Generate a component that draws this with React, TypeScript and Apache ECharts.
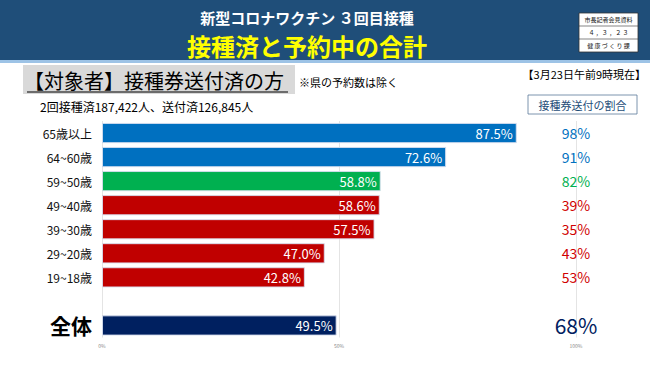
import React, { useEffect, useRef } from "react";
import * as echarts from "echarts";

const categories = ["65歳以上", "64~60歳", "59~50歳", "49~40歳", "39~30歳", "29~20歳", "19~18歳", "", "全体"];
const reservedRate = [87.5, 72.6, 58.8, 58.6, 57.5, 47.0, 42.8, null, 49.5];
const sentRatio = [98, 91, 82, 39, 35, 43, 53, null, 68];
const barColors = ["#0070C0", "#0070C0", "#00B050", "#C00000", "#C00000", "#C00000", "#C00000", "#C00000", "#002060"];
const ratioColors = ["#0070C0", "#0070C0", "#00B050", "#D00000", "#D00000", "#D00000", "#D00000", "#D00000", "#002060"];
const xTicks = [0, 50, 100];

const FONT = "'Noto Sans CJK JP', 'Noto Sans', sans-serif";

export default function App() {
  const ref = useRef<HTMLDivElement>(null);
  useEffect(() => {
    document.body.style.margin = "0";
    if (!ref.current) return;
    const chart = echarts.init(ref.current, null, { renderer: "svg" });
    const option: any = {
      animation: false,
      backgroundColor: "#ffffff",
      textStyle: { fontFamily: FONT },
      grid: { left: 102, right: 74, top: 121, bottom: 27.5, containLabel: false },
      xAxis: {
        type: "value",
        min: 0,
        max: 100,
        interval: 50,
        axisLine: { show: false },
        axisTick: { show: false },
        splitLine: { show: true, lineStyle: { color: "#e4e4e4", width: 1 } },
        axisLabel: {
          fontSize: 5,
          color: "#888",
          margin: 5,
          formatter: (v: number) => (xTicks.includes(v) ? v + "%" : ""),
        },
      },
      yAxis: {
        type: "category",
        data: categories,
        inverse: true,
        axisLine: { show: false },
        axisTick: { show: false },
        axisLabel: {
          margin: 10,
          fontSize: 12,
          color: "#111",
          fontFamily: FONT,
          formatter: (v: string) => (v === "全体" ? "{big|全体}" : v),
          rich: { big: { fontSize: 21, color: "#000", fontWeight: "bold", fontFamily: FONT } },
        },
      },
      series: [
        {
          type: "bar",
          barCategoryGap: "16%",
          data: reservedRate.map((v, i) =>
            v == null
              ? null
              : { value: v, itemStyle: { color: barColors[i], borderColor: "rgba(215,222,238,0.9)", borderWidth: 1 } }
          ),
          label: {
            show: true,
            position: "insideRight",
            distance: 4,
            color: "#ffffff",
            fontSize: 13,
            fontFamily: FONT,
            formatter: (p: any) => p.value.toFixed(1) + "%",
          },
        },
        {
          type: "scatter",
          symbolSize: 0,
          itemStyle: { opacity: 1 },
          data: sentRatio.map((v, i) =>
            v == null
              ? null
              : {
                  value: [100, i],
                  itemStyle: { opacity: 1 },
                  label: {
                    show: true,
                    position: "inside",
                    formatter: v + "%",
                    color: ratioColors[i],
                    opacity: 1,
                    fontSize: i === 8 ? 21 : 14,
                    fontFamily: FONT,
                  },
                }
          ),
        },
      ],
      graphic: [
        { type: "rect", shape: { x: 0, y: 0, width: 650, height: 60 }, style: { fill: "#1F4E79" } },
        { type: "rect", shape: { x: 0, y: 60, width: 650, height: 3 }, style: { fill: "#9DC3E6" } },
        {
          type: "text",
          x: 307,
          y: 17,
          style: {
            text: "新型コロナワクチン ３回目接種",
            fill: "#ffffff",
            font: "bold 15px " + FONT,
            textAlign: "center",
            textVerticalAlign: "middle",
          },
        },
        {
          type: "text",
          x: 307,
          y: 45,
          style: {
            text: "接種済と予約中の合計",
            fill: "#FFFF00",
            font: "bold 24px " + FONT,
            textAlign: "center",
            textVerticalAlign: "middle",
          },
        },
        { type: "rect", shape: { x: 579, y: 13, width: 59, height: 39 }, style: { fill: "#ffffff", stroke: "#333", lineWidth: 0.8 } },
        { type: "line", shape: { x1: 579, y1: 26, x2: 638, y2: 26 }, style: { stroke: "#333", lineWidth: 0.6 } },
        { type: "line", shape: { x1: 579, y1: 39, x2: 638, y2: 39 }, style: { stroke: "#333", lineWidth: 0.6 } },
        { type: "text", x: 608.5, y: 19.5, style: { text: "市長記者会見資料", fill: "#111", font: "6px " + FONT, textAlign: "center", textVerticalAlign: "middle" } },
        { type: "text", x: 608.5, y: 32.5, style: { text: "４ ，３ ，２ ３", fill: "#111", font: "6px " + FONT, textAlign: "center", textVerticalAlign: "middle" } },
        { type: "text", x: 608.5, y: 45.5, style: { text: "健 康 づ く り 課", fill: "#111", font: "6px " + FONT, textAlign: "center", textVerticalAlign: "middle" } },
        { type: "rect", shape: { x: 23, y: 65, width: 272, height: 29 }, style: { fill: "#D9D9D9" } },
        {
          type: "text",
          x: 24,
          y: 80,
          style: {
            text: "【対象者】接種券送付済の方",
            fill: "#000",
            font: "20px " + FONT,
            textAlign: "left",
            textVerticalAlign: "middle",
          },
        },
        { type: "line", shape: { x1: 27, y1: 92, x2: 288, y2: 92 }, style: { stroke: "#000", lineWidth: 1.2 } },
        {
          type: "text",
          x: 299,
          y: 82,
          style: { text: "※県の予約数は除く", fill: "#000", font: "11px " + FONT, textAlign: "left", textVerticalAlign: "middle" },
        },
        {
          type: "text",
          x: 646,
          y: 74,
          style: { text: "【3月23日午前9時現在】", fill: "#000", font: "11px " + FONT, textAlign: "right", textVerticalAlign: "middle" },
        },
        {
          type: "text",
          x: 40,
          y: 106,
          style: { text: "2回接種済187,422人、送付済126,845人", fill: "#000", font: "12px " + FONT, textAlign: "left", textVerticalAlign: "middle" },
        },
        { type: "rect", shape: { x: 528, y: 95, width: 109, height: 19 }, style: { fill: "#ffffff", stroke: "#5a7a9a", lineWidth: 0.8 } },
        {
          type: "text",
          x: 582.5,
          y: 104.5,
          style: { text: "接種券送付の割合", fill: "#1F4E79", font: "11px " + FONT, textAlign: "center", textVerticalAlign: "middle" },
        },
      ],
    };
    chart.setOption(option);
    return () => chart.dispose();
  }, []);
  return <div ref={ref} style={{ width: 650, height: 365 }} />;
}
